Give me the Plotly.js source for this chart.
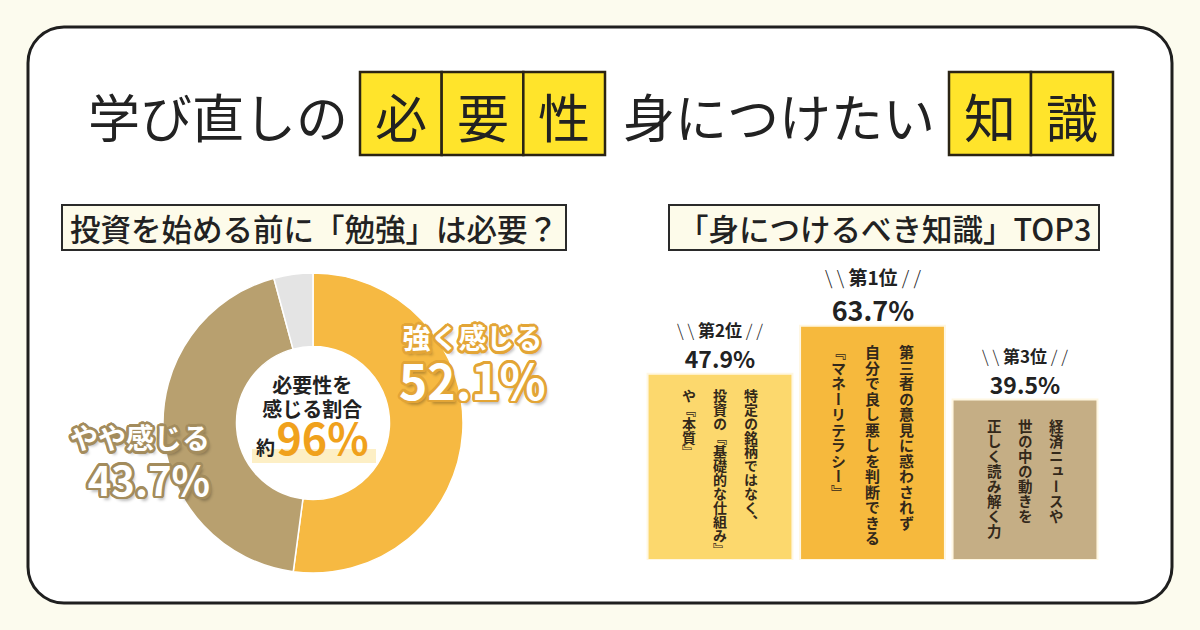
<!DOCTYPE html>
<html>
<head>
<meta charset="utf-8">
<script src="https://cdn.plot.ly/plotly-3.0.1.min.js"></script>
<style>
  html, body { margin: 0; padding: 0; background: #fcfbee; }
  #chart { width: 1200px; height: 630px; }
</style>
</head>
<body>
<div id="chart"></div>
<script>
// ---------------- DATA ----------------
const titleLead = '学び直しの';
const titleBoxed1 = ['必', '要', '性'];
const titleMid = '身につけたい';
const titleBoxed2 = ['知', '識'];

const leftHeading = '投資を始める前に「勉強」は必要？';
const rightHeading = '「身につけるべき知識」TOP3';

const donutLabels = ['強く感じる', 'やや感じる', 'その他'];
const donutValues = [52.1, 43.7, 4.2];
const centerLines = ['必要性を', '感じる割合'];
const centerPrefix = '約';
const centerValue = '96%';

const rankCats = ['第2位', '第1位', '第3位'];
const rankValues = [47.9, 63.7, 39.5];
const rankTexts = [
  ['特定の銘柄ではなく、', '投資の『基礎的な仕組み』', 'や『本質』'],
  ['第三者の意見に惑わされず', '自分で良し悪しを判断できる', '『マネーリテラシー』'],
  ['経済ニュースや', '世の中の動きを', '正しく読み解く力']
];

// ---------------- HELPERS ----------------
const W = 1200, H = 630;
const px = x => x / W;
const py = y => 1 - y / H;
const FONT = '"Noto Sans CJK JP", "Noto Sans", sans-serif';
const DARK = '#222222';

function outline(color, r) {
  const parts = [];
  for (let a = 0; a < 360; a += 22.5) {
    const rad = a * Math.PI / 180;
    parts.push(`${(r * Math.cos(rad)).toFixed(1)}px ${(r * Math.sin(rad)).toFixed(1)}px 0 ${color}`);
  }
  parts.push('3px 4px 3px rgba(0,0,0,0.25)');
  return parts.join(', ');
}
const span = (size, txt, extra) => `<span style="font-size:${size}px${extra ? ';' + extra : ''}">${txt}</span>`;

const shapes = [];
const annotations = [];
const lineOffsets = {};   // annotation index -> list of line offsets (px)
const verticalIdx = {};   // annotation index -> true (tategaki glyph)
function addAnno(a, offsets) {
  annotations.push(Object.assign({ showarrow: false }, a));
  if (offsets) lineOffsets[annotations.length - 1] = offsets;
  return annotations.length - 1;
}

// Frame (rounded rectangle)
(function () {
  const x0 = 28, x1 = 1172, y0 = 27, y1 = 603, r = 36, k = 0.5523 * r;
  const P = (x, y) => `${px(x)},${py(y)}`;
  const d = `M ${P(x0 + r, y0)} L ${P(x1 - r, y0)} C ${P(x1 - r + k, y0)} ${P(x1, y0 + r - k)} ${P(x1, y0 + r)} ` +
    `L ${P(x1, y1 - r)} C ${P(x1, y1 - r + k)} ${P(x1 - r + k, y1)} ${P(x1 - r, y1)} ` +
    `L ${P(x0 + r, y1)} C ${P(x0 + r - k, y1)} ${P(x0, y1 - r + k)} ${P(x0, y1 - r)} ` +
    `L ${P(x0, y0 + r)} C ${P(x0, y0 + r - k)} ${P(x0 + r - k, y0)} ${P(x0 + r, y0)} Z`;
  shapes.push({ type: 'path', xref: 'paper', yref: 'paper', path: d, fillcolor: '#ffffff',
    line: { color: '#1f1f1f', width: 3 }, layer: 'below' });
})();

// Title
const titleY = 115;
addAnno({ xref: 'paper', yref: 'paper', x: px(86), y: py(titleY), xanchor: 'left', yanchor: 'middle',
  text: titleLead, font: { family: FONT, size: 52, color: DARK, weight: 400 } });
addAnno({ xref: 'paper', yref: 'paper', x: px(621), y: py(titleY), xanchor: 'left', yanchor: 'middle',
  text: titleMid, font: { family: FONT, size: 52, color: DARK, weight: 400 } });

function boxedRow(chars, x0, x1) {
  const cw = (x1 - x0) / chars.length;
  chars.forEach((c, i) => {
    const a = x0 + i * cw, b = a + cw;
    shapes.push({ type: 'rect', xref: 'paper', yref: 'paper', x0: px(a), x1: px(b), y0: py(155), y1: py(72),
      fillcolor: '#ffe42b', line: { color: '#2b2414', width: 2.5 }, layer: 'below' });
    addAnno({ xref: 'paper', yref: 'paper', x: px((a + b) / 2), y: py(titleY), xanchor: 'center', yanchor: 'middle',
      text: c, font: { family: FONT, size: 52, color: DARK, weight: 400 } });
  });
}
boxedRow(titleBoxed1, 360, 605);
boxedRow(titleBoxed2, 949, 1113);

// Section headings
function heading(text, x0, x1) {
  shapes.push({ type: 'rect', xref: 'paper', yref: 'paper', x0: px(x0), x1: px(x1), y0: py(250), y1: py(205),
    fillcolor: '#fdfbea', line: { color: '#2a2a2a', width: 2 }, layer: 'below' });
  addAnno({ xref: 'paper', yref: 'paper', x: px((x0 + x1) / 2), y: py(228), xanchor: 'center', yanchor: 'middle',
    text: text, font: { family: FONT, size: 30.5, color: DARK, weight: 500 } });
}
heading(leftHeading, 62, 566);
heading(rightHeading, 669, 1099);

// Donut centre text (one block, three lines)
shapes.push({ type: 'rect', xref: 'paper', yref: 'paper', x0: px(252), x1: px(376), y0: py(463), y1: py(449),
  fillcolor: 'rgba(252,226,150,0.55)', line: { width: 0 }, layer: 'above' });
(function () {
  const fs = 20;
  const b0 = 385 + 0.38 * fs;
  const b1 = 409 + 0.38 * fs;
  const b2 = 455;
  const top = b0 - 1.16 * fs - 1;
  addAnno({ xref: 'paper', yref: 'paper', x: px(312), y: py(top), xanchor: 'center', yanchor: 'top', align: 'center',
    text: centerLines[0] + '<br>' + centerLines[1] + '<br>' + span(19, centerPrefix) + span(6, '&nbsp;') +
      span(43, centerValue, 'fill:#f0a11c;color:#f0a11c'),
    font: { family: FONT, size: fs, color: DARK, weight: 700 } }, [0, b1 - b0, b2 - b0]);
})();

// Donut outside labels (label + value in one block)
const pct = v => v.toFixed(1) + '%';
function donutLabel(i, cx, c1, c2, s2, col, align, anchor) {
  const fs = 28;
  const b0 = c1 + 0.38 * fs;
  const b1 = c2 + 0.36 * s2;
  const top = b0 - 1.16 * fs - 1;
  addAnno({ xref: 'paper', yref: 'paper', x: px(cx), y: py(top), xanchor: anchor, yanchor: 'top', align: align,
    text: donutLabels[i] + '<br>' + span(s2, pct(donutValues[i])),
    font: { family: FONT, size: fs, color: '#ffffff', weight: 700, shadow: outline(col, 2.7) } }, [0, b1 - b0]);
}
donutLabel(0, 472, 338, 382, 48, '#e3a536', 'center', 'center');
donutLabel(1, 212, 438, 481, 40, '#a38c5d', 'right', 'right');

// Bars
const barFloor = -13.2;
const barStyle = [
  { gap: 31, pad: 22, step: 14, size: 14, rank: 17, pct: 23, rankUp: 45, pctUp: 16 },
  { gap: 34, pad: 27, step: 15.5, size: 15, rank: 19, pct: 27, rankUp: 49, pctUp: 15.5 },
  { gap: 31, pad: 27, step: 15, size: 14.5, rank: 17, pct: 23, rankUp: 44, pctUp: 15 }
];
rankCats.forEach((cat, b) => {
  const v = rankValues[b], st = barStyle[b];
  const slashL = '<span style="font-weight:300">\\ \\ </span>';
  const slashR = '<span style="font-weight:300"> / /</span>';
  const dy = st.rankUp - st.pctUp + 0.36 * st.pct - 0.38 * st.rank;
  addAnno({ xref: 'x', yref: 'y', x: cat, y: v, yshift: st.rankUp + 0.78 * st.rank + 1, xanchor: 'center', yanchor: 'top',
    align: 'center', text: slashL + cat + slashR + '<br>' + span(st.pct, pct(v)),
    font: { family: FONT, size: st.rank, color: DARK, weight: 700 } }, [0, dy]);
  // vertical (tategaki) columns, read right to left, one glyph per annotation
  rankTexts[b].forEach((line, c) => {
    Array.from(line).forEach((ch, i) => {
      const idx = addAnno({ xref: 'x', yref: 'y', x: cat, y: v, xshift: st.gap * (1 - c),
        yshift: -(st.pad - st.size / 2 - 2 + i * st.step), xanchor: 'center', yanchor: 'top', align: 'center',
        text: ch, font: { family: FONT, size: st.size, color: '#33281a', weight: 700 } });
      verticalIdx[idx] = true;
    });
  });
});

const donut = {
  type: 'pie', labels: donutLabels, values: donutValues, hole: 0.51, sort: false, direction: 'clockwise',
  rotation: 0, textinfo: 'none', hoverinfo: 'skip',
  marker: { colors: ['#f6b942', '#b8a06f', '#e4e4e4'], line: { color: '#ffffff', width: 1.5 } },
  domain: { x: [px(163), px(463)], y: [py(573), py(273)] }, showlegend: false
};

const bars = {
  type: 'bar', x: rankCats, y: rankValues.map(v => v - barFloor), base: barFloor,
  marker: { color: ['#fcd86d', '#f6b93d', '#c5ae85'], line: { color: '#fff7e2', width: 2 } },
  hoverinfo: 'skip', showlegend: false
};

const layout = {
  width: W, height: H, margin: { l: 0, r: 0, t: 0, b: 0 },
  paper_bgcolor: '#fcfbee', plot_bgcolor: 'rgba(0,0,0,0)',
  showlegend: false, bargap: 0.05,
  xaxis: { domain: [px(643.75), px(1101.25)], range: [-0.5, 2.5], visible: false, type: 'category', fixedrange: true },
  yaxis: { domain: [py(560), py(291.2)], range: [barFloor, 75], visible: false, fixedrange: true },
  shapes: shapes, annotations: annotations,
  font: { family: FONT }
};

// post-layout text tweaks: tighter line spacing, vertical (tategaki) glyphs
function tweakText(gd) {
  gd.querySelectorAll('g.annotation').forEach(g => {
    const idx = g.getAttribute('data-index');
    const offs = lineOffsets[idx];
    if (offs) {
      g.querySelectorAll('text.annotation-text tspan.line')
        .forEach((t, n) => { if (offs[n] !== undefined) t.setAttribute('dy', offs[n] + 'px'); });
    }
    if (verticalIdx[idx]) {
      const t = g.querySelector('text.annotation-text');
      t.style.writingMode = 'vertical-rl';
      t.setAttribute('text-anchor', 'start');
      t.setAttribute('y', 2);
    }
  });
}

Plotly.newPlot('chart', [donut, bars], layout, { displayModeBar: false, staticPlot: true })
  .then(gd => { tweakText(gd); gd.on('plotly_afterplot', () => tweakText(gd)); });
</script>
</body>
</html>
